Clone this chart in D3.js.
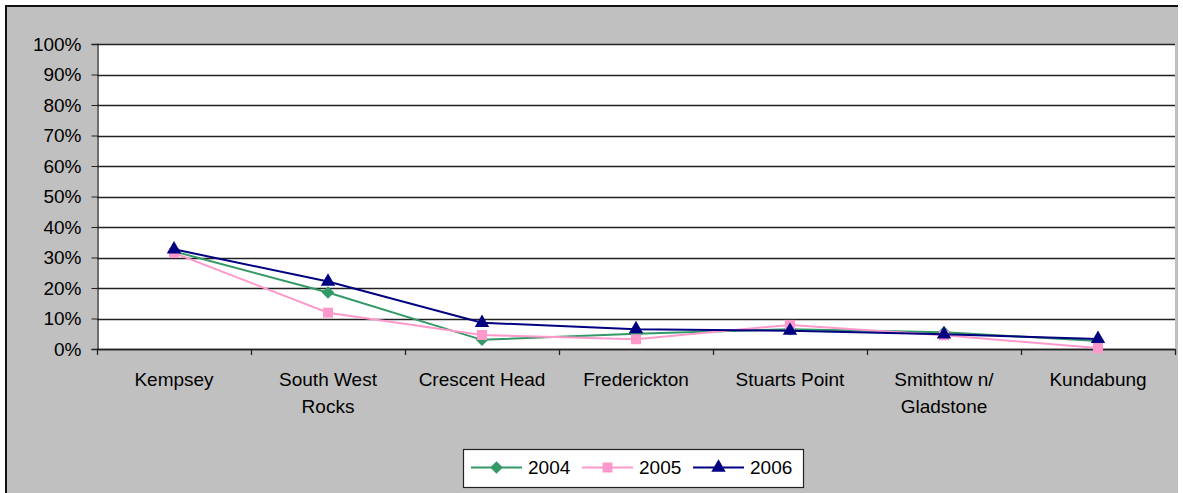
<!DOCTYPE html>
<html>
<head>
<meta charset="utf-8">
<script src="https://cdn.jsdelivr.net/npm/d3@7"></script>
<style>
  body { margin: 0; background: #fff; }
  svg { display: block; font-family: 'Liberation Sans', Arial, sans-serif; }
</style>
</head>
<body>
<svg id="chart" width="1183" height="493"></svg>
<script>
// category labels, already broken into lines as the chart shows them
let categories = [
	['Kempsey'],
	['South West', 'Rocks'],
	['Crescent Head'],
	['Frederickton'],
	['Stuarts Point'],
	['Smithtow n/', 'Gladstone'],
	['Kundabung']
];
let years = ['2004', '2005', '2006'];
let values2004 = [0.320, 0.185, 0.030, 0.050, 0.065, 0.055, 0.026];
let values2005 = [0.315, 0.119, 0.046, 0.032, 0.079, 0.045, 0.003];
let values2006 = [0.327, 0.221, 0.086, 0.065, 0.060, 0.048, 0.033];
let yTicks = [0, 0.1, 0.2, 0.3, 0.4, 0.5, 0.6, 0.7, 0.8, 0.9, 1];

let series = [
	{ name: years[0], values: values2004, color: '#339966', shape: d3.symbolDiamond2 },
	{ name: years[1], values: values2005, color: '#FF99CC', shape: d3.symbolSquare },
	{ name: years[2], values: values2006, color: '#000080', shape: d3.symbolTriangle }
];

let svg = d3.select('#chart');
let margin = { left: 97, right: 1175, top: 44, bottom: 349 };
let fontSize = 19;

// chart background + border (top and left edges visible)
svg.append('rect')
	.attr('x', 7).attr('y', 7)
	.attr('width', 1171).attr('height', 493)
	.attr('fill', '#c0c0c0');
svg.append('path')
	.attr('d', 'M6,493 L6,6 L1178,6')
	.attr('fill', 'none')
	.attr('stroke', '#111')
	.attr('stroke-width', 2);

let x = d3.scaleBand()
	.domain(d3.range(categories.length))
	.range([margin.left, margin.right])
	.paddingInner(0).paddingOuter(0);

let y = d3.scaleLinear()
	.domain([0, 1])
	.range([margin.bottom, margin.top]);

// plot area
svg.append('rect')
	.attr('x', margin.left).attr('y', margin.top)
	.attr('width', margin.right - margin.left)
	.attr('height', margin.bottom - margin.top)
	.attr('fill', '#fff');

// grid lines
svg.append('g')
	.selectAll('line')
	.data(yTicks)
	.enter().append('line')
	.attr('x1', margin.left).attr('x2', margin.right)
	.attr('y1', d => Math.round(y(d)) + 0.5)
	.attr('y2', d => Math.round(y(d)) + 0.5)
	.attr('stroke', '#222')
	.attr('stroke-width', 1.3);

// y axis
let yAxis = svg.append('g')
	.attr('transform', `translate(${margin.left + 0.5},0)`)
	.call(d3.axisLeft(y).tickValues(yTicks).tickFormat(d3.format('.0%')).tickSizeOuter(0).tickSize(6).tickPadding(10));
yAxis.select('.domain').attr('stroke', '#222').attr('stroke-width', 1.3);
yAxis.selectAll('.tick line').attr('stroke', '#222');
yAxis.selectAll('text')
	.attr('font-size', fontSize)
	.attr('font-family', "'Liberation Sans', Arial, sans-serif")
	.attr('fill', '#000');

// x axis line + boundary ticks
let bounds = x.domain().map(i => x(i)).concat([margin.right]);
svg.append('line')
	.attr('x1', margin.left).attr('x2', margin.right)
	.attr('y1', margin.bottom + 0.5).attr('y2', margin.bottom + 0.5)
	.attr('stroke', '#222').attr('stroke-width', 1.3);
svg.append('g')
	.selectAll('line')
	.data(bounds)
	.enter().append('line')
	.attr('x1', d => Math.round(d) + 0.5).attr('x2', d => Math.round(d) + 0.5)
	.attr('y1', margin.bottom).attr('y2', margin.bottom + 6)
	.attr('stroke', '#222').attr('stroke-width', 1.3);

// category labels
let cx = i => x(i) + x.bandwidth() / 2;
svg.append('g')
	.selectAll('text')
	.data(categories)
	.enter().append('text')
	.attr('text-anchor', 'middle')
	.attr('font-size', fontSize)
	.attr('fill', '#000')
	.each(function (lines, i) {
		d3.select(this).selectAll('tspan')
			.data(lines)
			.enter().append('tspan')
			.attr('x', cx(i))
			.attr('y', (d, j) => 386 + j * 27)
			.text(d => d);
	});

// series lines and markers
let line = d3.line()
	.x((d, i) => cx(i))
	.y(d => y(d));

let sym = (s, size) => d3.symbol().type(s.shape).size(size)();

series.forEach(s => {
	let g = svg.append('g');
	g.append('path')
		.attr('d', line(s.values))
		.attr('fill', 'none')
		.attr('stroke', s.color)
		.attr('stroke-width', 2);
	g.selectAll('path.marker')
		.data(s.values)
		.enter().append('path')
		.attr('class', 'marker')
		.attr('transform', (d, i) => `translate(${cx(i)},${y(d)})`)
		.attr('d', sym(s, s.shape === d3.symbolTriangle ? 90 : 100))
		.attr('fill', s.color);
});

// legend
let legend = svg.append('g');
legend.append('rect')
	.attr('x', 463.5).attr('y', 449.5)
	.attr('width', 340).attr('height', 38)
	.attr('fill', '#fff')
	.attr('stroke', '#222')
	.attr('stroke-width', 1.2);

let legendX = [471, 582, 693];
series.forEach((s, i) => {
	let lx = legendX[i];
	legend.append('line')
		.attr('x1', lx).attr('x2', lx + 51)
		.attr('y1', 467.5).attr('y2', 467.5)
		.attr('stroke', s.color)
		.attr('stroke-width', 2);
	legend.append('path')
		.attr('transform', `translate(${lx + 25.5},467.5)`)
		.attr('d', sym(s, s.shape === d3.symbolTriangle ? 90 : 100))
		.attr('fill', s.color);
	legend.append('text')
		.attr('x', lx + 57)
		.attr('y', 474)
		.attr('font-size', fontSize)
		.attr('fill', '#000')
		.text(s.name);
});
</script>
</body>
</html>
